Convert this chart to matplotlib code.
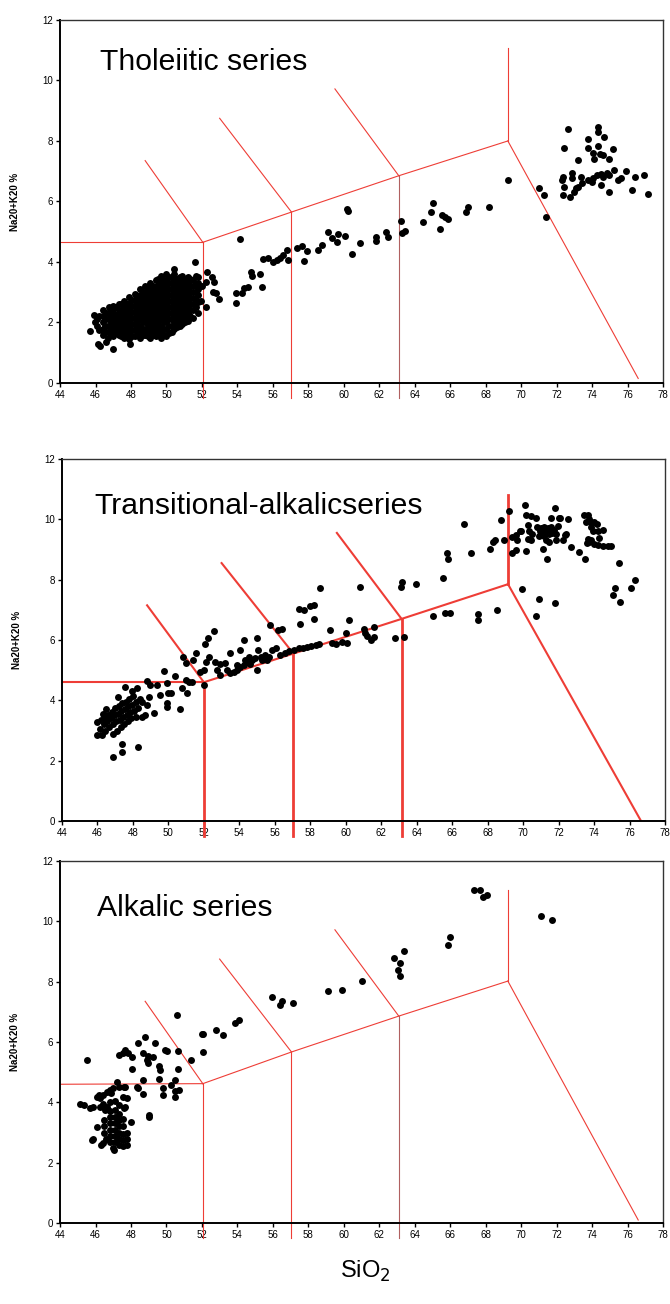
import numpy as np
import matplotlib.pyplot as plt

plt.rcParams['font.family'] = ['Liberation Sans', 'DejaVu Sans']

titles = ["Tholeiitic series", "Transitional-alkalicseries", "Alkalic series"]
title_pos = [(46.25, 10.6), (45.85, 10.45), (46.1, 10.45)]
ylabel = "Na20+K20 %"
xlabel = "SiO$_2$"

# SiO2 (wt %), Na2O+K2O (wt %)
tholeiitic_pts = [
    (45.7, 1.72), (45.9, 2.25), (45.95, 2.0), (46.1, 1.9), (46.1, 2.1), (46.15, 1.3),
    (46.25, 1.22), (46.2, 2.2), (46.2, 1.75), (46.6, 1.36), (47.0, 1.13), (47.95, 1.3),
    (46.4, 1.6), (46.4, 1.8), (46.4, 2.0), (46.4, 2.2), (46.45, 2.4),
    (46.55, 1.7), (46.55, 1.9), (46.55, 2.1), (46.6, 2.3),
    (46.7, 1.5), (46.7, 1.7), (46.7, 1.9), (46.7, 2.1), (46.7, 2.3), (46.75, 2.5),
    (46.85, 1.6), (46.85, 1.8), (46.85, 2.0), (46.85, 2.2), (46.85, 2.45),
    (47.0, 1.55), (47.0, 1.75), (47.0, 1.95), (47.0, 2.15), (47.0, 2.35), (47.0, 2.55),
    (47.15, 1.65), (47.15, 1.85), (47.15, 2.05), (47.15, 2.25), (47.15, 2.5),
    (47.3, 1.6), (47.3, 1.8), (47.3, 2.0), (47.3, 2.2), (47.3, 2.4), (47.3, 2.6),
    (47.45, 1.55), (47.45, 1.75), (47.45, 1.95), (47.45, 2.15), (47.45, 2.35), (47.45, 2.6),
    (47.6, 1.5), (47.6, 1.7), (47.6, 1.9), (47.6, 2.1), (47.6, 2.3), (47.6, 2.5), (47.6, 2.7),
    (47.75, 1.6), (47.75, 1.8), (47.75, 2.0), (47.75, 2.2), (47.75, 2.4), (47.75, 2.6),
    (47.9, 1.45), (47.9, 1.65), (47.9, 1.85), (47.9, 2.05), (47.9, 2.25), (47.9, 2.45),
    (47.9, 2.65), (47.9, 2.85),
    (48.05, 1.55), (48.05, 1.75), (48.05, 1.95), (48.05, 2.15), (48.05, 2.35), (48.05, 2.55),
    (48.05, 2.75),
    (48.2, 1.55), (48.2, 1.75), (48.2, 1.95), (48.2, 2.15), (48.2, 2.35), (48.2, 2.55),
    (48.2, 2.75), (48.2, 2.95),
    (48.35, 1.6), (48.35, 1.85), (48.35, 2.05), (48.35, 2.25), (48.35, 2.45), (48.35, 2.65),
    (48.35, 2.85),
    (48.5, 1.5), (48.5, 1.7), (48.5, 1.9), (48.5, 2.1), (48.5, 2.3), (48.5, 2.5),
    (48.5, 2.7), (48.5, 2.9), (48.5, 3.1),
    (48.65, 1.6), (48.65, 1.8), (48.65, 2.0), (48.65, 2.2), (48.65, 2.4), (48.65, 2.6),
    (48.65, 2.8), (48.65, 3.0),
    (48.8, 1.6), (48.8, 1.8), (48.8, 2.0), (48.8, 2.2), (48.8, 2.4), (48.8, 2.6),
    (48.8, 2.8), (48.8, 3.0), (48.8, 3.2),
    (48.95, 1.55), (48.95, 1.75), (48.95, 1.95), (48.95, 2.15), (48.95, 2.35), (48.95, 2.55),
    (48.95, 2.75), (48.95, 2.95), (48.95, 3.15),
    (49.1, 1.5), (49.1, 1.7), (49.1, 1.9), (49.1, 2.1), (49.1, 2.3), (49.1, 2.5),
    (49.1, 2.7), (49.1, 2.9), (49.1, 3.1), (49.1, 3.3),
    (49.25, 1.6), (49.25, 1.8), (49.25, 2.0), (49.25, 2.2), (49.25, 2.4), (49.25, 2.6),
    (49.25, 2.8), (49.25, 3.0), (49.25, 3.2),
    (49.4, 1.55), (49.4, 1.75), (49.4, 1.95), (49.4, 2.15), (49.4, 2.35), (49.4, 2.55),
    (49.4, 2.75), (49.4, 2.95), (49.4, 3.15), (49.4, 3.4),
    (49.55, 1.6), (49.55, 1.85), (49.55, 2.05), (49.55, 2.25), (49.55, 2.45), (49.55, 2.65),
    (49.55, 2.85), (49.55, 3.05), (49.55, 3.25), (49.55, 3.45),
    (49.7, 1.5), (49.7, 1.7), (49.7, 1.9), (49.7, 2.1), (49.7, 2.3), (49.7, 2.5),
    (49.7, 2.7), (49.7, 2.9), (49.7, 3.1), (49.7, 3.3), (49.7, 3.55),
    (49.85, 1.6), (49.85, 1.8), (49.85, 2.0), (49.85, 2.2), (49.85, 2.4), (49.85, 2.6),
    (49.85, 2.8), (49.85, 3.0), (49.85, 3.2), (49.85, 3.4),
    (50.0, 1.55), (50.0, 1.8), (50.0, 2.0), (50.0, 2.2), (50.0, 2.4), (50.0, 2.6),
    (50.0, 2.8), (50.0, 3.0), (50.0, 3.2), (50.0, 3.4), (50.0, 3.6),
    (50.15, 1.65), (50.15, 1.9), (50.15, 2.1), (50.15, 2.3), (50.15, 2.5), (50.15, 2.7),
    (50.15, 2.9), (50.15, 3.1), (50.15, 3.3), (50.15, 3.5),
    (50.3, 1.7), (50.3, 1.9), (50.3, 2.1), (50.3, 2.3), (50.3, 2.5), (50.3, 2.7),
    (50.3, 2.9), (50.3, 3.1), (50.3, 3.3), (50.3, 3.5), (50.4, 3.78),
    (50.45, 1.8), (50.45, 2.0), (50.45, 2.2), (50.45, 2.4), (50.45, 2.6), (50.45, 2.8),
    (50.45, 3.0), (50.45, 3.2), (50.45, 3.4), (50.45, 3.6),
    (50.6, 1.85), (50.6, 2.05), (50.6, 2.25), (50.6, 2.45), (50.6, 2.65), (50.6, 2.85),
    (50.6, 3.05), (50.6, 3.25), (50.6, 3.45),
    (50.75, 1.9), (50.75, 2.1), (50.75, 2.3), (50.75, 2.5), (50.75, 2.7), (50.75, 2.9),
    (50.75, 3.1), (50.75, 3.3), (50.75, 3.5),
    (50.9, 1.95), (50.9, 2.15), (50.9, 2.35), (50.9, 2.55), (50.9, 2.75), (50.9, 2.95),
    (50.9, 3.15), (50.9, 3.35), (50.9, 3.55),
    (51.05, 2.0), (51.05, 2.2), (51.05, 2.4), (51.05, 2.6), (51.05, 2.8), (51.05, 3.0),
    (51.05, 3.2), (51.05, 3.4),
    (51.2, 2.05), (51.2, 2.3), (51.2, 2.5), (51.2, 2.7), (51.2, 2.9), (51.2, 3.1),
    (51.2, 3.3), (51.2, 3.5),
    (51.35, 2.2), (51.35, 2.4), (51.35, 2.6), (51.35, 2.8), (51.35, 3.0), (51.35, 3.2),
    (51.35, 3.45),
    (51.5, 2.15), (51.5, 2.4), (51.5, 2.6), (51.5, 2.8), (51.5, 3.0), (51.5, 3.2),
    (51.5, 3.4), (51.6, 4.0),
    (51.65, 2.5), (51.65, 2.75), (51.65, 3.0), (51.65, 3.25), (51.65, 3.55),
    (51.8, 2.3), (51.8, 2.69), (51.8, 2.9), (51.8, 3.1), (51.8, 3.3), (51.8, 3.5),
    (51.95, 2.71), (52.0, 3.2),
    (52.27, 3.68), (52.55, 3.51), (52.7, 3.35), (52.25, 3.35), (52.63, 3.02), (52.8, 2.96),
    (52.97, 2.79), (52.24, 2.5),
    (54.15, 4.75), (53.92, 2.96), (53.9, 2.66), (54.24, 2.96), (54.39, 3.13), (54.58, 3.18),
    (54.75, 3.68), (54.8, 3.52), (55.27, 3.59), (55.37, 3.18), (55.46, 4.09), (55.74, 4.12),
    (55.99, 3.99), (56.21, 4.07), (56.4, 4.12), (56.59, 4.23), (56.81, 4.4), (56.87, 4.07),
    (57.34, 4.45), (57.62, 4.53), (57.9, 4.37), (57.75, 4.03), (58.56, 4.4), (58.75, 4.56),
    (59.13, 5.0), (59.31, 4.78), (59.6, 4.67), (59.69, 4.91), (60.06, 4.87), (60.16, 5.74),
    (60.25, 5.7), (60.44, 4.26), (60.91, 4.64), (61.79, 4.84), (61.79, 4.68), (62.36, 5.0),
    (62.47, 4.81), (63.22, 5.35), (63.26, 4.95), (63.45, 5.03), (64.44, 5.33), (64.9, 5.66),
    (65.01, 5.96), (65.42, 5.08), (65.52, 5.55), (65.7, 5.48), (65.89, 5.41), (66.87, 5.66),
    (66.98, 5.83), (68.18, 5.81), (69.26, 6.71), (71.0, 6.46), (71.3, 6.21), (71.38, 5.49),
    (72.62, 8.38), (74.35, 8.45), (74.35, 8.28), (74.69, 8.12), (73.79, 8.05), (72.43, 7.76),
    (73.79, 7.76), (74.35, 7.84), (75.16, 7.72), (73.18, 7.36), (74.07, 7.59), (74.1, 7.39),
    (74.44, 7.56), (74.63, 7.54), (74.95, 7.39), (72.38, 6.82), (72.28, 6.71), (72.43, 6.49),
    (72.36, 6.21), (72.77, 6.14), (72.85, 6.93), (72.88, 6.77), (72.96, 6.32), (73.07, 6.43),
    (73.37, 6.82), (73.41, 6.6), (73.22, 6.49), (73.79, 6.71), (73.97, 6.65), (74.07, 6.76),
    (74.26, 6.87), (74.5, 6.91), (74.63, 6.82), (74.82, 6.93), (74.95, 6.87), (75.25, 7.04),
    (75.44, 6.71), (75.63, 6.76), (75.89, 7.02), (76.42, 6.82), (76.94, 6.87), (76.23, 6.38),
    (77.13, 6.25), (74.95, 6.32), (74.5, 6.54),
]

transitional_pts = [
    (46.0, 3.27), (46.0, 2.85), (46.24, 2.85), (46.15, 3.05), (46.2, 3.35), (46.35, 3.2),
    (46.4, 3.45), (46.45, 3.0), (46.55, 3.3), (46.6, 3.5), (46.65, 3.1), (46.75, 3.4),
    (46.8, 3.6), (46.85, 3.2), (46.9, 2.9), (46.95, 3.5), (47.0, 3.75), (47.05, 3.3),
    (47.1, 3.0), (47.15, 3.55), (47.2, 3.8), (47.25, 3.35), (47.3, 3.1), (47.35, 3.65),
    (47.4, 3.9), (47.45, 3.45), (47.5, 3.2), (47.55, 3.7), (47.6, 3.95), (47.65, 3.5),
    (47.7, 3.3), (47.75, 3.8), (47.8, 4.05), (47.85, 3.6), (47.9, 3.4), (47.95, 3.85),
    (48.0, 4.15), (48.05, 3.65), (48.15, 3.95), (48.2, 3.45), (48.3, 3.75), (48.4, 4.05),
    (48.5, 3.46), (48.69, 3.51), (47.18, 4.12), (47.58, 4.43), (47.94, 4.32), (48.22, 4.4),
    (46.86, 2.13), (47.39, 2.55), (47.39, 2.28), (48.26, 2.44), (46.3, 3.55), (46.5, 3.7),
    (48.78, 4.65), (48.5, 3.96), (49.18, 3.57), (48.78, 3.85), (48.88, 4.12), (48.97, 4.51),
    (49.35, 4.51), (49.5, 4.18), (49.76, 4.97), (49.91, 4.56), (49.91, 3.9), (49.91, 3.79),
    (50.0, 4.23), (50.14, 4.23), (50.35, 4.8), (50.67, 3.7), (50.78, 4.4), (50.85, 5.45),
    (50.97, 5.25), (51.04, 4.23), (51.0, 4.67), (51.14, 4.62), (51.33, 4.62), (51.38, 5.34),
    (51.57, 5.58), (51.8, 4.95), (51.98, 5.0), (52.08, 5.86), (52.22, 6.05), (52.55, 6.31),
    (51.98, 4.51), (52.14, 5.28), (52.27, 5.45), (52.64, 5.28), (52.74, 5.0), (52.93, 5.2),
    (53.2, 5.25), (53.3, 5.0), (53.5, 4.9), (53.5, 5.56), (53.87, 5.0), (54.06, 5.11),
    (54.24, 5.17), (54.43, 5.28), (54.06, 5.67), (54.24, 6.0), (52.93, 4.83), (53.68, 4.94),
    (53.87, 5.16), (54.34, 5.33), (54.53, 5.44), (54.72, 5.33), (55.0, 6.05), (55.04, 5.68),
    (55.0, 4.99), (55.28, 5.33), (55.57, 5.33), (55.75, 6.49), (55.85, 5.66), (56.04, 5.74),
    (56.2, 6.33), (56.43, 6.35), (54.6, 5.2), (54.9, 5.4), (55.2, 5.45), (55.45, 5.5),
    (55.7, 5.42), (56.3, 5.5), (56.6, 5.58), (56.8, 5.65),
    (57.07, 5.66), (57.35, 5.72), (57.6, 5.75), (57.83, 5.77), (58.05, 5.8), (58.3, 5.82),
    (58.5, 5.86), (57.41, 6.54), (57.35, 7.04), (57.64, 6.98), (58.01, 7.12), (58.2, 7.15),
    (58.2, 6.71), (58.54, 7.73), (59.14, 6.32), (59.24, 5.9), (59.43, 5.88), (59.8, 5.94),
    (60.08, 5.89), (59.99, 6.24), (60.21, 6.66), (60.83, 7.76), (61.02, 6.35), (61.11, 6.24),
    (61.21, 6.13), (61.4, 6.0), (61.59, 6.11), (61.59, 6.43), (62.77, 6.05), (63.28, 6.1),
    (63.19, 7.93), (63.09, 7.76), (63.94, 7.87), (64.94, 6.8), (65.6, 6.88), (65.86, 6.88),
    (65.48, 8.07), (65.69, 8.89), (65.78, 8.7), (66.67, 9.84), (67.05, 8.87), (67.48, 6.86),
    (67.48, 6.66), (68.12, 9.01), (68.31, 9.25), (68.42, 9.33), (68.52, 6.99), (68.74, 9.99),
    (68.93, 9.31), (69.18, 10.27), (69.36, 8.87), (69.59, 8.98), (69.4, 9.42), (69.59, 9.47),
    (69.68, 9.31), (69.82, 9.62), (69.88, 9.63), (69.93, 7.68), (70.12, 10.47), (70.19, 10.14),
    (70.44, 10.1), (70.72, 10.03), (70.19, 8.94), (70.25, 9.8), (70.35, 9.63), (70.53, 9.53),
    (70.25, 9.36), (70.44, 9.3), (70.91, 7.36), (70.72, 6.8), (71.81, 7.24), (71.13, 9.01),
    (71.32, 8.7), (71.57, 10.03), (72.08, 10.06), (71.79, 10.36), (71.28, 9.31), (71.47, 9.25),
    (71.85, 9.31), (72.23, 9.31), (72.38, 9.47), (72.7, 9.09), (73.17, 8.92), (73.51, 8.7),
    (70.8, 9.75), (71.0, 9.72), (71.2, 9.75), (71.4, 9.72), (71.6, 9.75), (70.95, 9.6),
    (71.15, 9.55), (71.35, 9.6), (71.55, 9.6), (71.75, 9.65), (71.95, 9.78), (70.9, 9.45),
    (71.2, 9.45), (71.45, 9.5), (71.65, 9.55), (71.85, 9.5), (72.04, 10.05), (72.42, 9.53),
    (72.51, 10.02),
    (73.45, 10.13), (73.64, 10.13), (73.74, 10.02), (73.55, 9.91), (73.83, 9.91), (74.02, 9.91),
    (74.17, 9.83), (73.83, 9.75), (73.92, 9.63), (74.21, 9.63), (74.49, 9.66), (73.64, 9.36),
    (73.74, 9.25), (73.83, 9.3), (73.6, 9.22), (74.02, 9.19), (74.3, 9.39), (74.21, 9.14),
    (74.49, 9.1), (74.77, 9.1), (74.96, 9.1), (75.43, 8.55), (76.33, 7.98), (76.09, 7.74),
    (75.2, 7.74), (75.09, 7.48), (75.49, 7.26),
]

alkalic_pts = [
    (45.13, 3.96), (45.35, 3.9), (45.54, 5.4), (45.69, 3.8), (45.88, 3.85), (45.79, 2.75),
    (45.88, 2.8), (46.07, 3.17), (46.07, 4.18), (46.22, 4.24), (46.26, 4.13), (46.44, 4.24),
    (46.63, 4.35), (46.82, 4.4), (47.0, 4.49), (47.2, 4.68), (46.44, 3.96), (46.63, 3.85),
    (46.54, 3.74), (46.26, 3.85), (46.44, 2.64), (46.3, 2.6), (46.5, 3.0), (46.5, 3.2),
    (46.5, 3.4), (46.6, 2.8), (46.8, 2.7), (46.8, 2.9), (46.8, 3.1), (46.8, 3.3),
    (46.8, 3.5), (46.8, 3.7), (46.8, 4.0), (46.9, 4.3), (47.0, 2.5), (47.05, 2.42),
    (47.1, 2.7), (47.1, 2.9), (47.1, 3.1), (47.1, 3.3), (47.1, 3.5), (47.1, 3.75),
    (47.1, 4.05), (47.3, 2.6), (47.3, 2.8), (47.3, 3.0), (47.3, 3.2), (47.3, 3.4),
    (47.3, 3.6), (47.35, 3.9), (47.3, 4.5), (47.55, 2.55), (47.55, 2.75), (47.55, 2.95),
    (47.55, 3.2), (47.55, 3.45), (47.6, 4.5), (47.8, 2.8), (47.8, 3.0), (47.75, 2.6),
    (47.98, 3.35), (47.67, 4.51), (47.57, 4.18), (47.76, 4.13), (47.67, 3.85), (47.6, 3.8),
    (47.35, 5.57), (47.57, 5.62), (47.67, 5.73), (47.85, 5.62), (48.04, 5.51), (48.04, 5.09),
    (48.42, 5.97), (48.79, 6.17), (48.66, 5.62), (48.98, 5.53), (48.89, 5.4), (48.98, 5.31),
    (49.26, 5.51), (48.32, 4.51), (48.42, 4.46), (48.7, 4.73), (48.66, 4.27), (49.04, 3.57),
    (49.04, 3.52), (49.36, 5.98), (49.6, 5.2), (49.64, 5.07), (49.6, 4.79), (49.79, 4.49),
    (49.79, 4.24), (49.92, 5.73), (50.05, 5.71), (50.58, 6.89), (50.64, 5.71), (50.64, 5.09),
    (50.24, 4.57), (50.49, 4.73), (50.49, 4.38), (50.68, 4.4), (50.49, 4.18), (51.37, 5.4),
    (51.99, 6.26), (52.05, 6.28), (52.08, 5.66), (52.8, 6.39), (53.21, 6.22), (53.87, 6.63),
    (54.11, 6.72), (55.94, 7.5), (56.41, 7.24), (56.5, 7.35), (57.16, 7.3), (59.13, 7.68),
    (59.88, 7.74), (61.0, 8.03), (62.85, 8.79), (63.17, 8.63), (63.39, 9.02), (63.03, 8.38),
    (63.18, 8.18), (65.89, 9.2), (65.98, 9.49), (67.36, 11.03), (67.68, 11.03), (67.86, 10.81),
    (68.05, 10.86), (71.12, 10.17), (71.72, 10.06),
]

# boundary lines: corner points and the ends of the lines leaving them
corners = [
    [(52.05, 4.65), (57.05, 5.65), (63.1, 6.85), (69.25, 8.0)],
    [(52.0, 4.6), (57.05, 5.55), (63.15, 6.7), (69.15, 7.85)],
    [(52.05, 4.62), (57.05, 5.67), (63.1, 6.86), (69.25, 8.02)],
]
upper_ends = [
    [(48.8, 7.35), (53.0, 8.75), (59.5, 9.72)],
    [(48.8, 7.15), (53.0, 8.55), (59.5, 9.55)],
    [(48.8, 7.35), (53.0, 8.75), (59.5, 9.72)],
]
top_end = [11.07, 10.8, 11.03]
low_end = [(76.6, 0.15), (76.65, 0.0), (76.6, 0.1)]
left_y = [4.65, 4.6, 4.6]

data = [tholeiitic_pts, transitional_pts, alkalic_pts]
axes_rect = [
    [0.0896, 0.7063, 0.900, 0.2784],
    [0.0925, 0.3704, 0.900, 0.2776],
    [0.0896, 0.0621, 0.900, 0.2776],
]
line_w = [0.8, 1.5, 0.8]
vert_w = [0.8, 2.0, 0.8]
red = '#ee3d36'

fig = plt.figure(figsize=(6.7, 13.04), dpi=100)

for k in range(3):
    ax = fig.add_axes(axes_rect[k])
    pts = np.array(data[k])
    cn = corners[k]
    lw = line_w[k]
    # horizontal line on the left
    ax.plot([44, cn[0][0]], [left_y[k], cn[0][1]], color=red, lw=lw)
    # lower boundary through the corners
    ax.plot([p[0] for p in cn], [p[1] for p in cn], color=red, lw=lw)
    for i in range(3):
        ax.plot([cn[i][0], upper_ends[k][i][0]], [cn[i][1], upper_ends[k][i][1]],
                color=red, lw=lw)
        vc = '#b06060' if (i == 2 and k != 1) else red
        ax.plot([cn[i][0], cn[i][0]], [-0.5, cn[i][1]], color=vc, lw=vert_w[k],
                clip_on=False)
    ax.plot([cn[3][0], cn[3][0]], [cn[3][1], top_end[k]], color=red, lw=vert_w[k])
    ax.plot([cn[3][0], low_end[k][0]], [cn[3][1], low_end[k][1]], color=red, lw=lw)

    ax.plot(pts[:, 0], pts[:, 1], 'o', color='black', markersize=5.0, mec='black', mew=0,
            zorder=3)

    ax.set_xlim(44, 78)
    ax.set_ylim(0, 12)
    ax.set_xticks(np.arange(44, 79, 2))
    ax.set_yticks(np.arange(0, 13, 2))
    ax.tick_params(direction='out', length=3, width=1, labelsize=7, pad=2)
    for s in ['left', 'bottom']:
        ax.spines[s].set_linewidth(1.4)
    for s in ['top', 'right']:
        ax.spines[s].set_linewidth(1.0)
        ax.spines[s].set_color('#333333')
    ax.set_ylabel(ylabel, fontsize=7, fontweight='bold', labelpad=16)
    ax.text(title_pos[k][0], title_pos[k][1], titles[k], fontsize=21.7, va='center',
            ha='left')

fig.text(0.545, 0.015, xlabel, fontsize=17, ha='center', va='bottom')

plt.savefig('out.png', dpi=100)
